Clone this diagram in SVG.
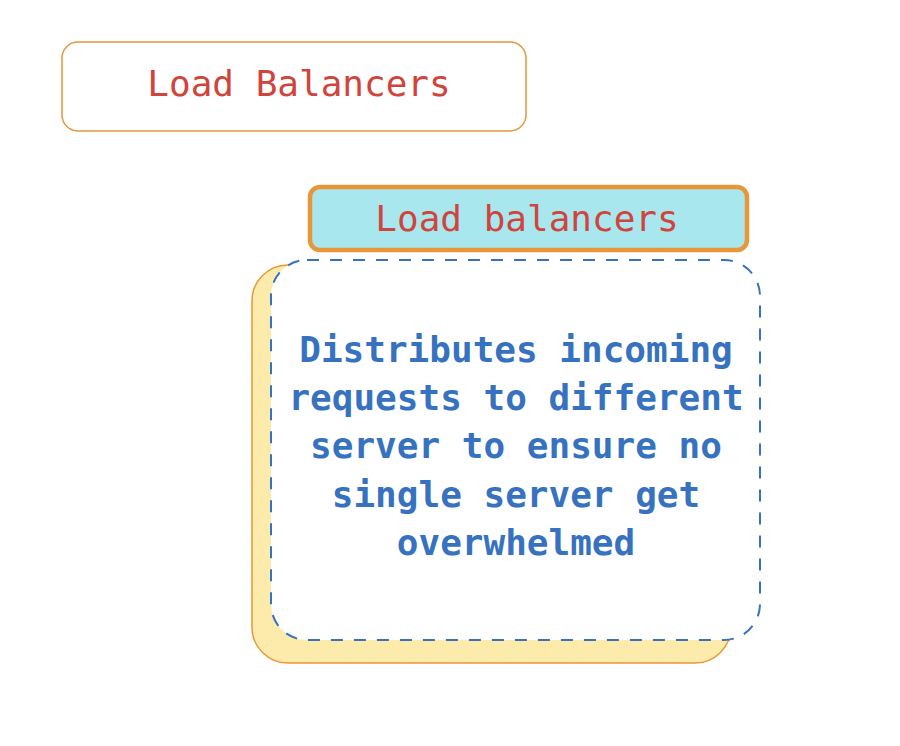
<svg xmlns="http://www.w3.org/2000/svg" width="900" height="746" viewBox="0 0 900 746">
<style>
.t{font-family:"DejaVu Sans Mono","Liberation Mono",monospace;font-size:36px;text-anchor:middle}
.red{fill:#d0443c}
.blue{fill:#3672c0;font-weight:bold}
</style>
<rect width="900" height="746" fill="#ffffff"/>
<g id="node-title">
<rect x="62" y="42" width="464" height="89" rx="16" fill="#ffffff" stroke="#e8963a" stroke-width="1.5"/>
<text class="t red" x="299" y="96">Load Balancers</text>
</g>
<g id="node-shadow">
<rect x="252" y="265" width="479" height="398" rx="36" fill="#fcebaa" stroke="#e8963a" stroke-width="1.5"/>
</g>
<g id="node-body">
<rect x="271" y="260" width="489" height="380" rx="36" fill="#ffffff" stroke="#3672c0" stroke-width="2" stroke-dasharray="12 11"/>
<text class="t blue" x="516" y="362">Distributes incoming</text>
<text class="t blue" x="516" y="410">requests to different</text>
<text class="t blue" x="516" y="458">server to ensure no</text>
<text class="t blue" x="516" y="507">single server get</text>
<text class="t blue" x="516" y="555">overwhelmed</text>
</g>
<g id="node-header">
<rect x="310" y="187" width="437" height="63" rx="10" fill="#a9e7ef" stroke="#e8963a" stroke-width="4.5"/>
<text class="t red" x="527" y="231">Load balancers</text>
</g>
<g id="connectors"></g>
</svg>
